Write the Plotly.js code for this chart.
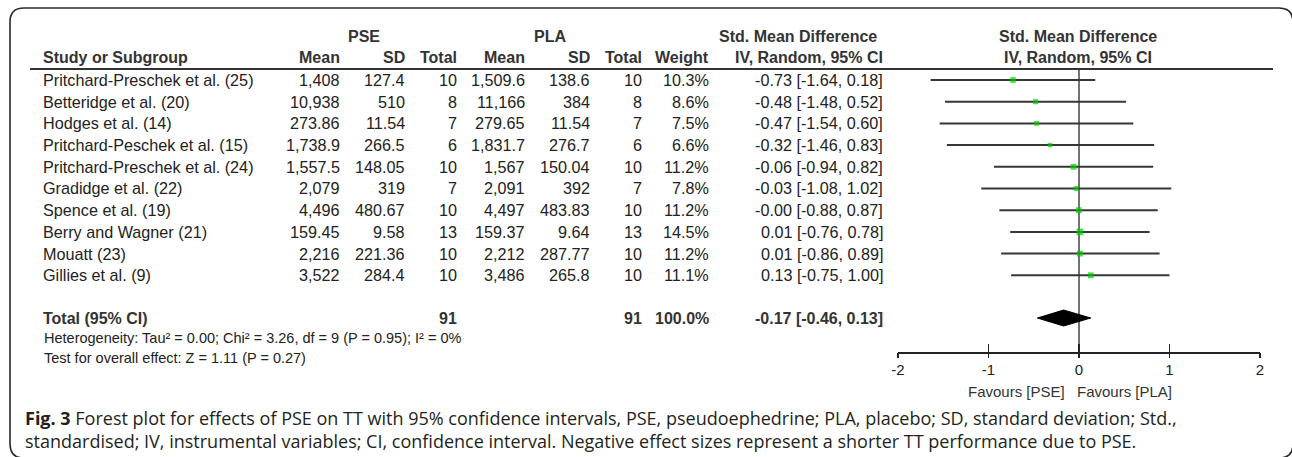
<!DOCTYPE html>
<html>
<head>
<meta charset="utf-8">
<script src="https://cdn.plot.ly/plotly-3.0.1.min.js"></script>
<style>html,body{margin:0;padding:0;background:#fff;}#chart{width:1292px;height:457px;}</style>
</head>
<body>
<div id="chart"></div>
<script>
// ---------- data ----------
const studies = [
  'Pritchard-Preschek et al. (25)',
  'Betteridge et al. (20)',
  'Hodges et al. (14)',
  'Pritchard-Peschek et al. (15)',
  'Pritchard-Preschek et al. (24)',
  'Gradidge et al. (22)',
  'Spence et al. (19)',
  'Berry and Wagner (21)',
  'Mouatt (23)',
  'Gillies et al. (9)'
];
const pseMean = ['1,408', '10,938', '273.86', '1,738.9', '1,557.5', '2,079', '4,496', '159.45', '2,216', '3,522'];
const pseSD   = ['127.4', '510', '11.54', '266.5', '148.05', '319', '480.67', '9.58', '221.36', '284.4'];
const pseN    = [10, 8, 7, 6, 10, 7, 10, 13, 10, 10];
const plaMean = ['1,509.6', '11,166', '279.65', '1,831.7', '1,567', '2,091', '4,497', '159.37', '2,212', '3,486'];
const plaSD   = ['138.6', '384', '11.54', '276.7', '150.04', '392', '483.83', '9.64', '287.77', '265.8'];
const plaN    = [10, 8, 7, 6, 10, 7, 10, 13, 10, 10];
const weights = [10.3, 8.6, 7.5, 6.6, 11.2, 7.8, 11.2, 14.5, 11.2, 11.1];
const smd     = [-0.73, -0.48, -0.47, -0.32, -0.06, -0.03, -0.002, 0.01, 0.01, 0.13];
const ciLow   = [-1.64, -1.48, -1.54, -1.46, -0.94, -1.08, -0.88, -0.76, -0.86, -0.75];
const ciHigh  = [0.18, 0.52, 0.60, 0.83, 0.82, 1.02, 0.87, 0.78, 0.89, 1.00];
const totalPSE = 91, totalPLA = 91, totalWeight = 100.0;
const totalSmd = -0.17, totalLow = -0.46, totalHigh = 0.13;
const heterogeneityText = 'Heterogeneity: Tau² = 0.00; Chi² = 3.26, df = 9 (P = 0.95); I² = 0%';
const overallText = 'Test for overall effect: Z = 1.11 (P = 0.27)';
const tickVals = [-2, -1, 0, 1, 2];
const tickLabels = ['-2', '-1', '0', '1', '2'];
const favoursLeft = 'Favours [PSE]', favoursRight = 'Favours [PLA]';
const captionLine1 = '<b>Fig. 3</b> Forest plot for effects of PSE on TT with 95% confidence intervals, PSE, pseudoephedrine; PLA, placebo; SD, standard deviation; Std.,';
const captionLine2 = 'standardised; IV, instrumental variables; CI, confidence interval. Negative effect sizes represent a shorter TT performance due to PSE.';

// ---------- layout helpers ----------
const W = 1292, H = 457;
const px = x => x / W;
const py = y => 1 - y / H;
const ROW0 = 80, ROWH = 21.7;          // pixel centre of first row, row pitch
const PLOT_TOP = 69, AXIS_Y = 352;
const rowIdx = studies.map((s, i) => i);
const totalRow = (318 - ROW0) / ROWH;

const TF = 'Arial, "Liberation Sans", sans-serif';
const body = {family: TF, size: 16.2, color: '#222'};
const bold = {family: TF, size: 16, color: '#333'};
const ann = [];
function txt(text, x, y, anchor, font, yref) {
  ann.push({text: text, x: px(x), xref: 'paper', y: y, yref: yref || 'paper',
    xanchor: anchor, yanchor: 'middle', showarrow: false, font: font,
    borderpad: 0, borderwidth: 0});
}
const fmt2 = v => v.toFixed(2);

// header
const H1 = 36, H2 = 58;
txt('<b>PSE</b>', 364, py(H1), 'center', bold);
txt('<b>PLA</b>', 550, py(H1), 'center', bold);
txt('<b>Std. Mean Difference</b>', 877, py(H1), 'right', bold);
txt('<b>Std. Mean Difference</b>', 1078, py(H1), 'center', bold);
txt('<b>Study or Subgroup</b>', 43, py(H2), 'left', bold);
txt('<b>Mean</b>', 340, py(H2), 'right', bold);
txt('<b>SD</b>', 405, py(H2), 'right', bold);
txt('<b>Total</b>', 457, py(H2), 'right', bold);
txt('<b>Mean</b>', 525, py(H2), 'right', bold);
txt('<b>SD</b>', 590, py(H2), 'right', bold);
txt('<b>Total</b>', 642, py(H2), 'right', bold);
txt('<b>Weight</b>', 709, py(H2), 'right', bold);
txt('<b>IV, Random, 95% CI</b>', 883, py(H2), 'right', bold);
txt('<b>IV, Random, 95% CI</b>', 1078, py(H2), 'center', bold);

// rows
studies.forEach((s, i) => {
  txt(s, 43, i, 'left', body, 'y');
  txt(pseMean[i], 340, i, 'right', body, 'y');
  txt(pseSD[i], 405, i, 'right', body, 'y');
  txt(String(pseN[i]), 457, i, 'right', body, 'y');
  txt(plaMean[i], 525, i, 'right', body, 'y');
  txt(plaSD[i], 590, i, 'right', body, 'y');
  txt(String(plaN[i]), 642, i, 'right', body, 'y');
  txt(weights[i].toFixed(1) + '%', 709, i, 'right', body, 'y');
  txt(fmt2(smd[i]) + ' [' + fmt2(ciLow[i]) + ', ' + fmt2(ciHigh[i]) + ']', 883, i, 'right', body, 'y');
});

// total
txt('<b>Total (95% CI)</b>', 43, totalRow, 'left', bold, 'y');
txt('<b>' + totalPSE + '</b>', 457, totalRow, 'right', bold, 'y');
txt('<b>' + totalPLA + '</b>', 642, totalRow, 'right', bold, 'y');
txt('<b>' + totalWeight.toFixed(1) + '%</b>', 709, totalRow, 'right', bold, 'y');
txt('<b>' + fmt2(totalSmd) + ' [' + fmt2(totalLow) + ', ' + fmt2(totalHigh) + ']</b>', 883, totalRow, 'right', bold, 'y');

const small = {family: TF, size: 14.5, color: '#222'};
txt(heterogeneityText, 44, py(338), 'left', small);
txt(overallText, 44, py(358), 'left', small);

const fav = {family: TF, size: 15, color: '#333'};
txt(favoursLeft, 1065, py(391), 'right', fav);
txt(favoursRight, 1077, py(391), 'left', fav);

const cap = {family: '"Open Sans", "Noto Sans", sans-serif', size: 18, color: '#231f20'};
txt(captionLine1, 25, py(418), 'left', cap);
txt(captionLine2, 25, py(441), 'left', cap);

// ---------- traces ----------
const studyTrace = {
  type: 'scatter', mode: 'markers', x: smd, y: rowIdx, xaxis: 'x', yaxis: 'y',
  marker: {symbol: 'square', color: '#00cc00', size: weights.map(w => 1.75 * Math.sqrt(w)), line: {width: 0}},
  error_x: {type: 'data', symmetric: false,
    array: ciHigh.map((h, i) => h - smd[i]),
    arrayminus: ciLow.map((l, i) => smd[i] - l),
    color: '#363636', thickness: 2, width: 0},
  hoverinfo: 'skip', showlegend: false, cliponaxis: false
};
const dh = 8 / ROWH;
const diamond = {
  type: 'scatter', mode: 'lines', fill: 'toself', fillcolor: '#000',
  x: [totalLow, totalSmd, totalHigh, totalSmd, totalLow],
  y: [totalRow, totalRow - dh, totalRow, totalRow + dh, totalRow],
  line: {color: '#000', width: 1}, hoverinfo: 'skip', showlegend: false
};

// ---------- frame ----------
const bx0 = px(10), bx1 = px(1293), by0 = py(8), by1 = py(458);
const rx = 14 / W, ry = 14 / H;
const boxPath = `M ${bx0 + rx} ${by0} L ${bx1 - rx} ${by0} Q ${bx1} ${by0} ${bx1} ${by0 - ry} ` +
  `L ${bx1} ${by1 + ry} Q ${bx1} ${by1} ${bx1 - rx} ${by1} L ${bx0 + rx} ${by1} ` +
  `Q ${bx0} ${by1} ${bx0} ${by1 + ry} L ${bx0} ${by0 - ry} Q ${bx0} ${by0} ${bx0 + rx} ${by0} Z`;

const layout = {
  width: W, height: H, margin: {l: 0, r: 0, t: 0, b: 0},
  paper_bgcolor: '#fff', plot_bgcolor: 'rgba(0,0,0,0)', showlegend: false,
  xaxis: {domain: [px(898), px(1260)], range: [-2, 2], anchor: 'y',
    tickmode: 'array', tickvals: tickVals, ticktext: tickLabels,
    ticks: 'inside', ticklen: 8, tickwidth: 1.5, tickcolor: '#222',
    showline: true, linecolor: '#222', linewidth: 1.5, showgrid: false, zeroline: false,
    tickfont: {family: TF, size: 15, color: '#222'}, ticklabelstandoff: 3, fixedrange: true},
  xaxis2: {overlaying: 'x', matches: 'x', anchor: 'y', side: 'bottom',
    tickmode: 'array', tickvals: tickVals, ticks: 'outside', ticklen: 5, tickwidth: 1.5, tickcolor: '#222',
    showticklabels: false, showline: false, showgrid: false, zeroline: false, fixedrange: true},
  yaxis: {domain: [py(AXIS_Y), py(PLOT_TOP)],
    range: [(AXIS_Y - ROW0) / ROWH, (PLOT_TOP - ROW0) / ROWH],
    visible: false, showgrid: false, zeroline: false, fixedrange: true},
  shapes: [
    {type: 'path', xref: 'paper', yref: 'paper', path: boxPath, line: {color: '#2a2a2a', width: 1.6}},
    {type: 'line', xref: 'paper', yref: 'paper', x0: px(30), x1: px(1273), y0: py(PLOT_TOP), y1: py(PLOT_TOP),
      line: {color: '#333', width: 1.8}},
    {type: 'line', xref: 'x', yref: 'paper', x0: 0, x1: 0, y0: py(AXIS_Y + 5), y1: py(PLOT_TOP),
      line: {color: '#444', width: 1.5}, layer: 'below'}
  ],
  annotations: ann
};

Plotly.newPlot('chart', [studyTrace, diamond, {type: 'scatter', x: [0], y: [0], xaxis: 'x2', yaxis: 'y', mode: 'markers', marker: {opacity: 0}, hoverinfo: 'skip', showlegend: false}], layout, {staticPlot: true, displayModeBar: false});
</script>
</body>
</html>
